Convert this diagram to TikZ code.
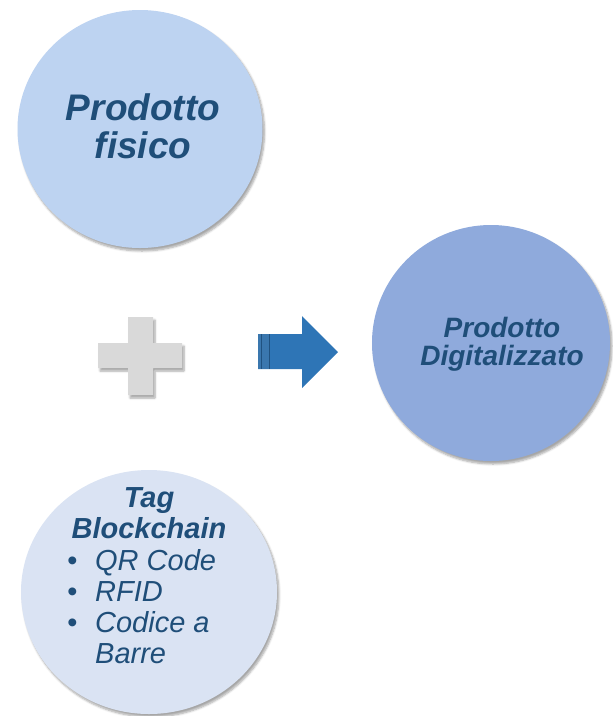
\documentclass[tikz,border=0pt]{standalone}
\usepackage{fontspec}
\setmainfont{Liberation Sans}
\usepackage{xcolor}
\usepackage{tikz}
\usetikzlibrary{shapes.geometric,shadows,shadows.blur,positioning}
\definecolor{txtblue}{HTML}{1F4E79}
\definecolor{lightblue}{HTML}{BDD3F1}
\definecolor{midblue}{HTML}{8FAADC}
\definecolor{paleblue}{HTML}{DAE3F3}
\definecolor{arrowblue}{HTML}{2E75B6}
\definecolor{plusgray}{HTML}{D9D9D9}
\tikzstyle{disc} = [ellipse, inner sep=0pt, draw=none, blur shadow={shadow xshift=2pt, shadow yshift=-3pt, shadow opacity=35, shadow blur steps=6}]
\tikzstyle{txtlabel} = [inner sep=0pt, text=txtblue, anchor=base]
\tikzstyle{softshadow} = [blur shadow={shadow xshift=2pt, shadow yshift=-3pt, shadow opacity=35, shadow blur steps=6}]
\newcommand{\lines}[1]{\begin{tabular}[t]{@{}c@{}}#1\end{tabular}}

\begin{document}
\begin{tikzpicture}[x=1pt,y=-1pt]
    \useasboundingbox (0,0) rectangle (613,716);
    \node (fisico) [disc, fill=lightblue, minimum width=245pt, minimum height=238pt] at (140,129) {};
    \node (fisicotext) [txtlabel, font=\bfseries\itshape\fontsize{37}{38}\selectfont] at (143,120) {\lines{Prodotto\\fisico}};
    \node (digitale) [disc, fill=midblue, minimum width=238pt, minimum height=236pt] at (491,343) {};
    \node (digitext) [txtlabel, font=\bfseries\itshape\fontsize{28}{28}\selectfont] at (502,337) {\lines{Prodotto\\Digitalizzato}};
    \node (tag) [disc, fill=paleblue, minimum width=256pt, minimum height=244pt] at (149,592) {};
    \node (taghead) [txtlabel, font=\bfseries\itshape\fontsize{29}{31}\selectfont] at (149,507) {\lines{Tag\\Blockchain}};
    \node (taglist) [txtlabel, anchor=base west, font=\itshape\fontsize{29}{31}\selectfont] at (67,570) {\begin{tabular}[t]{@{}l@{}l@{}}\makebox[28pt][l]{\textbullet}&QR Code\\\makebox[28pt][l]{\textbullet}&RFID\\\makebox[28pt][l]{\textbullet}&Codice a\\&Barre\end{tabular}};
    \fill [plusgray, softshadow] (98,343) -- (128,343) -- (128,317) -- (153,317) -- (153,343) -- (182,343) -- (182,368) -- (153,368) -- (153,395) -- (128,395) -- (128,368) -- (98,368) -- cycle;
    \fill [arrowblue] (258,334) -- (302,334) -- (302,316) -- (338,352) -- (302,388) -- (302,369) -- (258,369) -- cycle;
    \fill [arrowblue!85!gray] (258,334) rectangle (270,369);
    \draw [arrowblue!70!black, line width=0.8pt] (261,334) -- (261,369);
    \draw [arrowblue!70!black, line width=0.8pt] (269,334) -- (269,369);
\end{tikzpicture}
\end{document}
